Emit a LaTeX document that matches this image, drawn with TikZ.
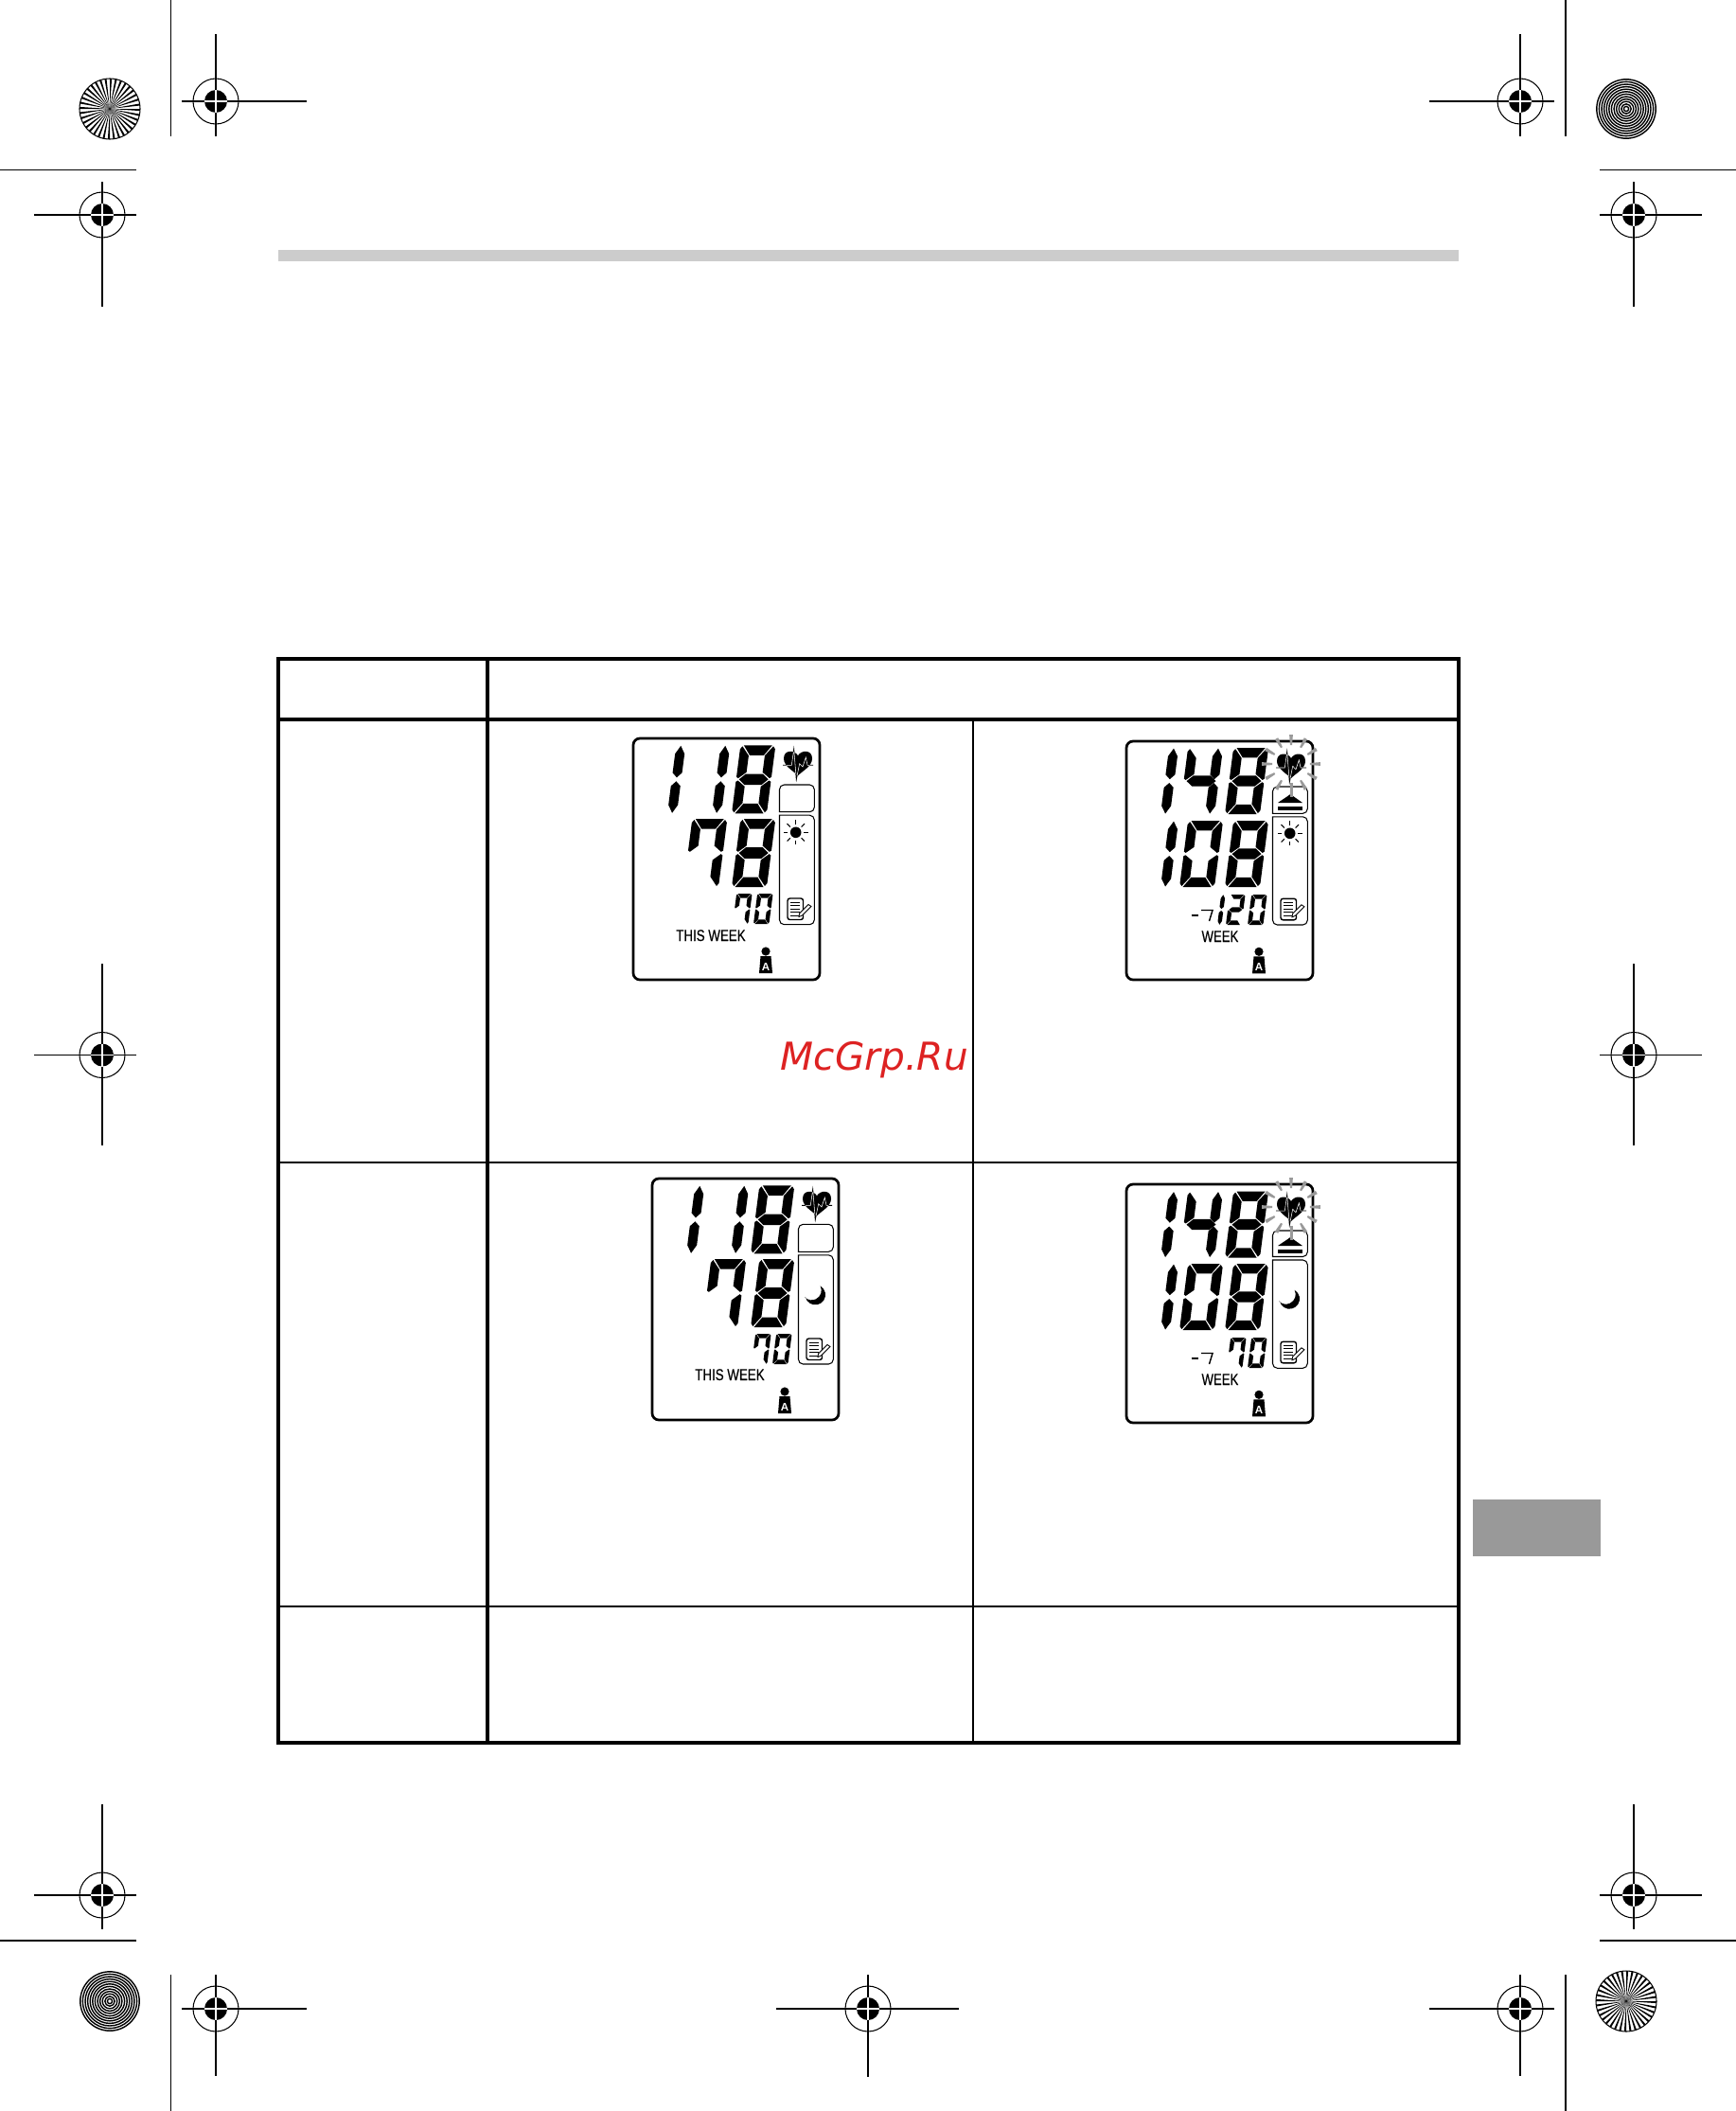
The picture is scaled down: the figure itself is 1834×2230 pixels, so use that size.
\documentclass[tikz,border=0pt]{standalone}
\usepackage{fontspec}
\newfontfamily\lcdfont{Liberation Sans}
\newfontfamily\lcdtext[FakeBold=0.4]{Liberation Sans}
\newfontfamily\markfont{DejaVu Sans}
\definecolor{barcolor}{HTML}{CCCCCC}
\definecolor{tabcolor}{HTML}{999999}
\definecolor{markred}{HTML}{DD2222}
\tikzset{
	hair/.style = {line width = 0.3pt},
	tablethick/.style = {line width = 1.14pt},
	tablethin/.style = {line width = 0.57pt},
	sega/.style = {insert path = {(3.5,72) -- (33.5,72) -- (26,61.5) -- (11,61.5) -- cycle}},
	segb/.style = {insert path = {(37,38.5) -- (37,68) -- (34.8,71) -- (27,61) -- (27,43.5) -- (35,37.2) -- cycle}},
	segc/.style = {insert path = {(37,33.5) -- (37,4) -- (34.8,1) -- (27,11) -- (27,28.5) -- (35,34.8) -- cycle}},
	segd/.style = {insert path = {(3.5,0) -- (33.5,0) -- (26,10.5) -- (11,10.5) -- cycle}},
	sege/.style = {insert path = {(0,33.5) -- (0,4) -- (2.2,1) -- (10,11) -- (10,28.5) -- (2,34.8) -- cycle}},
	segf/.style = {insert path = {(0,38.5) -- (0,68) -- (2.2,71) -- (10,61) -- (10,43.5) -- (2,37.2) -- cycle}},
	segg/.style = {insert path = {(3,36) -- (9.5,41.8) -- (27.5,41.8) -- (34,36) -- (27.5,30.2) -- (9.5,30.2) -- cycle}},
	segp/.style = {insert path = {(32,71.5) -- (37,63) -- (37,43) -- (32,38) -- (27,43) -- (27,63) -- cycle}},
	segq/.style = {insert path = {(32,34) -- (37,29) -- (37,9) -- (32,0.5) -- (27,9) -- (27,29) -- cycle}}
}
\def\dgone{p,q}
\def\dgtwo{a,b,g,e,d}
\def\dgfour{f,g,p,q}
\def\dgseven{a,f,b,c}
\def\dgeight{a,b,c,d,e,f,g}
\def\dgzero{a,b,c,d,e,f}
% x, bottom y, x size, y size, segments
\newcommand{\lcddigit}[5]{
	\begin{scope}[shift = {(#1, #2)}, xslant = 0.13, xscale = #3, yscale = -#4]
		\foreach \s in #5 {\fill[seg\s];}
	\end{scope}
}
% height, top and bottom of the upper box, bottom of the lower box
\newcommand{\lcdframe}[4]{
	\draw[line width = 0.77pt, rounded corners = 2pt] (0, 0) rectangle (197, #1);
	\draw[hair] (154.5, #3) {[rounded corners = 1.4pt] -- (154.5, #2) -- (191.3, #2) -- (191.3, #3)} -- cycle;
	\draw[hair] (154.5, #3 + 3.5) {[rounded corners = 1.4pt] -- (154.5, #4) -- (191.3, #4) -- (191.3, #3 + 3.5)} -- cycle;
}
\newcommand{\lcdheart}[1]{
	\begin{scope}[shift = {(174, #1)}]
		\fill (0,-5) .. controls (-3,-11) and (-15,-12) .. (-15,-2) .. controls (-15,6) and (-5,11) .. (0,16) .. controls (5,11) and (15,6) .. (15,-2) .. controls (15,-12) and (3,-11) .. (0,-5) -- cycle;
		\draw[line width = 0.25pt] (-16,5) -- (-6.7,5) -- (-4.3,-11.7) -- (-1.7,20) -- (1.7,3.3) -- (5,6.7) -- (8.3,-3.3) -- (10,5) -- (16,5);
		\clip (0,-5) .. controls (-3,-11) and (-15,-12) .. (-15,-2) .. controls (-15,6) and (-5,11) .. (0,16) .. controls (5,11) and (15,6) .. (15,-2) .. controls (15,-12) and (3,-11) .. (0,-5) -- cycle;
		\draw[white, line width = 0.15pt] (-16,5) -- (-6.7,5) -- (-4.3,-11.7) -- (-1.7,20) -- (1.7,3.3) -- (5,6.7) -- (8.3,-3.3) -- (10,5) -- (16,5);
	\end{scope}
}
% the flashing rays and the raised arrow
\newcommand{\lcdalarm}[1]{
	\fill (160,#1 + 41) -- (173.3,#1 + 32) -- (186,#1 + 41) -- cycle;
	\fill (160,#1 + 44.5) rectangle (185.5,#1 + 49);
	\begin{scope}[shift = {(174, #1)}]
		\foreach \a in {0,30,60,120,150,180,210,240,270,300,330}
			\fill[tabcolor] (\a-3:20) -- (\a+3:20) -- (\a+3.5:31) -- (\a-3.5:31) -- cycle;
		\fill[tabcolor] (-1.5,20) rectangle (1.5,35);
	\end{scope}
}
\newcommand{\lcdsun}[2]{
	\begin{scope}[shift = {(#1, #2)}]
		\fill (0,0) circle (5.8);
		\foreach \a in {0,45,...,315}
			\draw[line width = 0.3pt] (\a:8.3) -- (\a:13);
	\end{scope}
}
\newcommand{\lcdmoon}[1]{
	\begin{scope}[shift = {(172.3, #1)}, yscale = -1]
		\fill (192:10.7) arc[start angle = 192, end angle = 420, radius = 10.7] arc[start angle = 26.6, end angle = -132.4, radius = 10.3] -- cycle;
	\end{scope}
}
\newcommand{\lcdmemo}[1]{
	\begin{scope}[shift = {(163, #1)}]
		\draw[line width = 0.4pt, rounded corners = 0.7pt] (0,0) rectangle (16.5,22.5);
		\foreach \l in {4,7.5,11,14.5,18}
			\draw[line width = 0.25pt] (2.5,\l) -- (13,\l);
		\draw[line width = 0.25pt, fill = white] (12,19.5) -- (12.5,16) -- (22,6.5) -- (25,8.5) -- (15.5,18) -- cycle;
	\end{scope}
}
% name, y of the head
\newcommand{\lcdperson}[2]{
	\fill (140, #2) circle (4.6);
	\fill (134.5, #2 + 5) -- (145.5, #2 + 5) -- (147, #2 + 23) -- (133, #2 + 23) -- cycle;
	\node[anchor = base, inner sep = 0pt, white] (#1) at (140, #2 + 20.5) {\lcdfont\bfseries\fontsize{3.3}{3.5}\selectfont A};
}
\newcommand{\regtarget}[6]{
	\draw[hair] (#3, #2) -- (#4, #2);
	\draw[hair] (#1, #5) -- (#1, #6);
	\draw[hair] (#1, #2) circle (24);
	\fill (#1, #2) circle (12);
	\draw[white, hair] (#1 - 12, #2) -- (#1 + 12, #2);
	\draw[white, hair] (#1, #2 - 12) -- (#1, #2 + 12);
}
\newcommand{\spokes}[2]{
	\foreach \a in {0,10,...,350}
		\fill (#1, #2) -- ++(\a:32) -- ++(\a+92.5:2.1) -- cycle;
	\draw[line width = 0.3pt] (#1, #2) circle (32);
}
\newcommand{\rings}[2]{
	\foreach \r in {2.6,5.2,...,32}
		\draw[line width = 0.4pt] (#1, #2) circle (\r);
}
\begin{document}
\begin{tikzpicture}[x = 0.01cm, y = -0.01cm]
	\useasboundingbox (0, 0) rectangle (1834, 2230);

	% printer marks
	\spokes{116}{115}
	\rings{1718}{115}
	\rings{116}{2114}
	\spokes{1718}{2114}
	\draw[hair] (180.5, 0) -- (180.5, 144);
	\draw[hair] (1654, 0) -- (1654, 144);
	\draw[hair] (0, 179.5) -- (144, 179.5);
	\draw[hair] (1690, 179.5) -- (1834, 179.5);
	\draw[hair] (0, 2050) -- (144, 2050);
	\draw[hair] (1690, 2050) -- (1834, 2050);
	\draw[hair] (180.5, 2086) -- (180.5, 2230);
	\draw[hair] (1654, 2086) -- (1654, 2230);
	\regtarget{228}{107}{192}{324}{36}{144}
	\regtarget{108}{227}{36}{144}{192}{324}
	\regtarget{1606}{107}{1510}{1642}{36}{144}
	\regtarget{1726}{227}{1690}{1798}{192}{324}
	\regtarget{108}{1114.5}{36}{144}{1018}{1210}
	\regtarget{1726}{1114.5}{1690}{1798}{1018}{1210}
	\regtarget{108}{2002}{36}{144}{1906}{2038}
	\regtarget{1726}{2002}{1690}{1798}{1906}{2038}
	\regtarget{228}{2122}{192}{324}{2086}{2193}
	\regtarget{1606}{2122}{1510}{1642}{2086}{2193}
	\regtarget{917}{2122}{820}{1013}{2086}{2194}

	% bars
	\fill[barcolor] (294, 264) rectangle (1541, 276);
	\fill[tabcolor] (1556, 1584) rectangle (1691, 1644);

	% table
	\draw[tablethick] (294, 696) rectangle (1541, 1841);
	\draw[tablethick] (294, 760) -- (1541, 760);
	\draw[tablethick] (515, 696) -- (515, 1841);
	\draw[tablethin] (1028, 758) -- (1028, 1841);
	\draw[tablethin] (294, 1228) -- (1541, 1228);
	\draw[tablethin] (294, 1697) -- (1541, 1697);

	% upper left display
	\begin{scope}[shift = {(669, 780)}]
		\lcdframe{255}{49}{77.7}{196.7}
		\lcddigit{9}{79.3}{1}{1}{\dgone}
		\lcddigit{56}{79.3}{1}{1}{\dgone}
		\lcddigit{104}{79.3}{1}{1}{\dgeight}
		\lcddigit{53}{157}{1}{1}{\dgseven}
		\lcddigit{104}{157}{1}{1}{\dgeight}
		\lcddigit{105}{196}{0.444}{0.444}{\dgseven}
		\lcddigit{127}{196}{0.444}{0.444}{\dgzero}
		\lcdheart{23.3}
		\lcdsun{171.7}{99.3}
		\lcdmemo{169}
		\node[anchor = base west, inner sep = 0pt, xscale = 0.79, transform shape] (weekA) at (44.7, 214) {\lcdtext\fontsize{4.8}{5}\selectfont THIS WEEK};
		\lcdperson{userA}{225}
	\end{scope}

	% upper right display
	\begin{scope}[shift = {(1190, 783)}]
		\lcdframe{252}{48}{76.3}{194}
		\lcddigit{9}{77}{1}{0.97}{\dgone}
		\lcddigit{56}{77}{1}{0.97}{\dgfour}
		\lcddigit{104}{77}{1}{0.97}{\dgeight}
		\lcddigit{9}{154}{1}{0.97}{\dgone}
		\lcddigit{56}{154}{1}{0.97}{\dgzero}
		\lcddigit{104}{154}{1}{0.97}{\dgeight}
		\draw[line width = 0.6pt] (68.5, 184) -- (76, 184);
		\draw[line width = 0.4pt] (79, 178.5) -- (91, 178.5) -- (87.5, 190);
		\lcddigit{84}{194}{0.444}{0.444}{\dgone}
		\lcddigit{105}{194}{0.444}{0.444}{\dgtwo}
		\lcddigit{128}{194}{0.444}{0.444}{\dgzero}
		\lcdheart{23}
		\lcdalarm{24}
		\lcdsun{172.7}{97.3}
		\lcdmemo{166.3}
		\node[anchor = base west, inner sep = 0pt, xscale = 0.78, transform shape] (weekB) at (79, 212) {\lcdtext\fontsize{4.8}{5}\selectfont WEEK};
		\lcdperson{userB}{222.3}
	\end{scope}

	% lower left display
	\begin{scope}[shift = {(689, 1245)}]
		\lcdframe{255}{48.3}{77.3}{196}
		\lcddigit{9}{79.3}{1}{1}{\dgone}
		\lcddigit{56}{79.3}{1}{1}{\dgone}
		\lcddigit{104}{79.3}{1}{1}{\dgeight}
		\lcddigit{53}{157}{1}{1}{\dgseven}
		\lcddigit{104}{157}{1}{1}{\dgeight}
		\lcddigit{105}{196}{0.444}{0.444}{\dgseven}
		\lcddigit{127}{196}{0.444}{0.444}{\dgzero}
		\lcdheart{23.3}
		\lcdmoon{122.7}
		\lcdmemo{169}
		\node[anchor = base west, inner sep = 0pt, xscale = 0.79, transform shape] (weekC) at (44.7, 213) {\lcdtext\fontsize{4.8}{5}\selectfont THIS WEEK};
		\lcdperson{userC}{225}
	\end{scope}

	% lower right display
	\begin{scope}[shift = {(1190, 1251)}]
		\lcdframe{252}{49}{76.5}{194.3}
		\lcddigit{9}{77.5}{1}{0.97}{\dgone}
		\lcddigit{56}{77.5}{1}{0.97}{\dgfour}
		\lcddigit{104}{77.5}{1}{0.97}{\dgeight}
		\lcddigit{9}{154}{1}{0.97}{\dgone}
		\lcddigit{56}{154}{1}{0.97}{\dgzero}
		\lcddigit{104}{154}{1}{0.97}{\dgeight}
		\draw[line width = 0.6pt] (68.5, 184) -- (76, 184);
		\draw[line width = 0.4pt] (79, 178.5) -- (91, 178.5) -- (87.5, 190);
		\lcddigit{106}{194}{0.444}{0.444}{\dgseven}
		\lcddigit{128}{194}{0.444}{0.444}{\dgzero}
		\lcdheart{23}
		\lcdalarm{24}
		\lcdmoon{121}
		\lcdmemo{166.3}
		\node[anchor = base west, inner sep = 0pt, xscale = 0.78, transform shape] (weekD) at (79, 212) {\lcdtext\fontsize{4.8}{5}\selectfont WEEK};
		\lcdperson{userD}{222.3}
	\end{scope}

	% site mark
	\node[anchor = base west, inner sep = 0pt, text = markred] (sitemark) at (824, 1130) {\markfont\itshape\fontsize{11.55}{12}\selectfont McGrp.Ru};
\end{tikzpicture}
\end{document}
